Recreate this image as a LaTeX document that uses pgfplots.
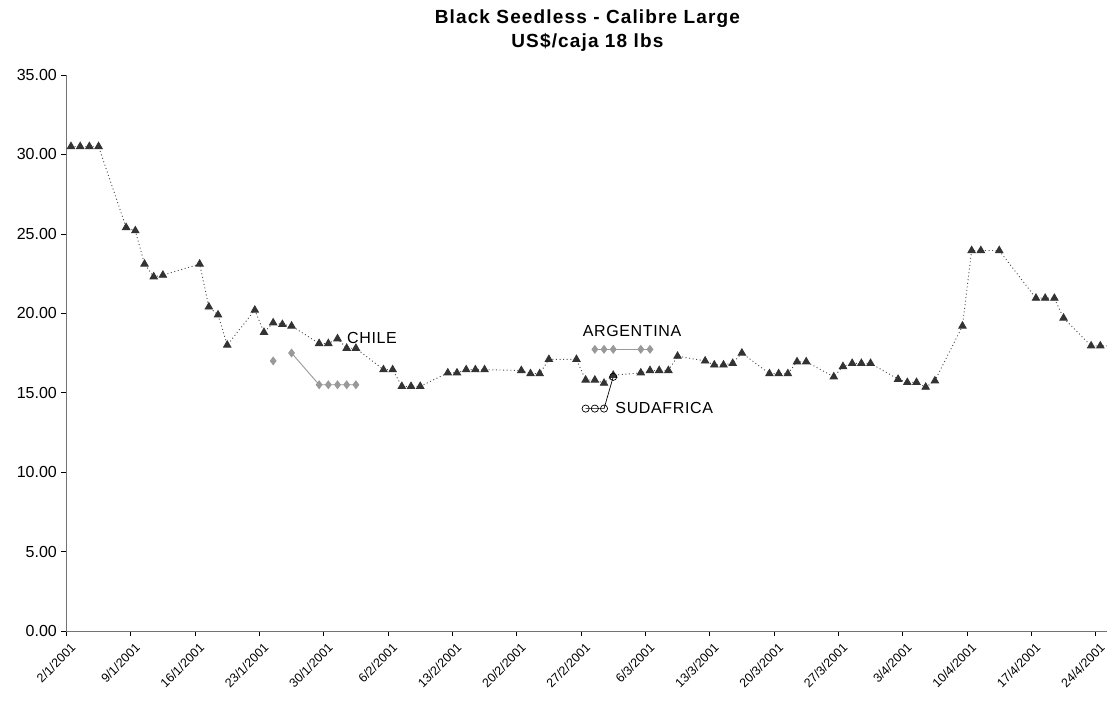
\documentclass[border=0pt]{standalone}
\usepackage{pgfplots}
\pgfplotsset{compat=1.18}
\usepackage{fontspec}
\setmainfont{Liberation Sans}
\definecolor{tri}{HTML}{333333}
\definecolor{dia}{HTML}{999999}
\begin{document}
\begin{tikzpicture}
\useasboundingbox (-66.4pt,-78pt) rectangle (1040.6pt,631pt);
\begin{axis}[
  scale only axis,
  width=1040.6pt, height=556pt,
  xmin=0, xmax=113.23, ymin=0, ymax=35,
  axis lines*=left,
  axis line style={draw=gray!90!black, line width=0.8pt},
  xtick={0,7,...,112},
  xticklabels={2/1/2001,9/1/2001,16/1/2001,23/1/2001,30/1/2001,6/2/2001,13/2/2001,20/2/2001,27/2/2001,6/3/2001,13/3/2001,20/3/2001,27/3/2001,3/4/2001,10/4/2001,17/4/2001,24/4/2001},
  xticklabel style={rotate=45, anchor=north east, font=\fontsize{12.5pt}{14pt}\selectfont, inner sep=1pt, xshift=-1pt, yshift=-6pt},
  ytick={0,5,...,35},
  yticklabel style={font=\fontsize{16pt}{18pt}\selectfont, xshift=-1pt},
  /pgf/number format/.cd, fixed, fixed zerofill, precision=2, assume math mode=true,
  /pgfplots/.cd,
  tick align=outside,
  major tick length=5pt,
  tick style={black, line width=0.7pt},
  unbounded coords=jump,
  clip=true,
]
% Main series (triangles)
\addplot[draw=black!70, line width=0.9pt, dash pattern=on 1pt off 2.6pt,
  mark=triangle*, mark size=4.2pt, mark options={solid, fill=tri, draw=tri}]
coordinates {
(0.5,30.5)(1.5,30.5)(2.5,30.5)(3.5,30.5)
(6.5,25.4)(7.5,25.2)(8.5,23.1)(9.5,22.3)(10.5,22.4)
(14.5,23.1)(15.5,20.4)(16.5,19.9)(17.5,18.0)
(20.5,20.2)(21.5,18.8)(22.5,19.4)(23.5,19.3)(24.5,19.2)
(27.5,18.1)(28.5,18.1)(29.5,18.4)(30.5,17.8)(31.5,17.8)
(34.5,16.45)(35.5,16.45)(36.5,15.4)(37.5,15.4)(38.5,15.4)
(41.5,16.25)(42.5,16.25)(43.5,16.45)(44.5,16.45)(45.5,16.45)
(49.5,16.4)(50.5,16.2)(51.5,16.2)(52.5,17.1)
(55.5,17.1)(56.5,15.8)(57.5,15.8)(58.5,15.6)(59.5,16.1)
(62.5,16.25)(63.5,16.4)(64.5,16.4)(65.5,16.4)(66.5,17.3)
(69.5,17.0)(70.5,16.75)(71.5,16.75)(72.5,16.85)(73.5,17.5)
(76.5,16.2)(77.5,16.2)(78.5,16.2)(79.5,16.95)(80.5,16.95)
(83.5,16.0)(84.5,16.65)(85.5,16.85)(86.5,16.85)(87.5,16.85)
(90.5,15.85)(91.5,15.65)(92.5,15.65)(93.5,15.35)(94.5,15.75)
(97.5,19.2)(98.5,23.95)(99.5,23.95)(101.5,23.95)
(105.5,20.95)(106.5,20.95)(107.5,20.95)(108.5,19.7)
(111.5,17.95)(112.5,17.95)(113.5,17.95)
};
% Chile
\addplot[draw=dia, line width=0.9pt, mark=diamond*, mark size=3.8pt,
  mark options={fill=dia, draw=dia}]
coordinates {
(22.5,17.0)(23.5,nan)(24.5,17.5)(27.5,15.5)(28.5,15.5)(29.5,15.5)(30.5,15.5)(31.5,15.5)
};
% Argentina
\addplot[draw=dia, line width=0.9pt, mark=diamond*, mark size=3.8pt,
  mark options={fill=dia, draw=dia}]
coordinates {
(57.5,17.73)(58.5,17.73)(59.5,17.73)(62.5,17.73)(63.5,17.73)
};
% Sudafrica
\addplot[draw=black, line width=0.7pt, mark=o, mark size=3.6pt,
  mark options={fill=white, draw=black, line width=0.7pt}]
coordinates {
(56.5,14.0)(57.5,14.0)(58.5,14.0)(59.5,16.0)
};
\node[font=\fontsize{16pt}{18pt}\selectfont\addfontfeature{LetterSpace=4}] at (axis cs:33.25,18.45) {CHILE};
\node[font=\fontsize{16pt}{18pt}\selectfont\addfontfeature{LetterSpace=4}] at (axis cs:61.55,18.9) {ARGENTINA};
\node[font=\fontsize{16pt}{18pt}\selectfont\addfontfeature{LetterSpace=4}] at (axis cs:65.05,14.05) {SUDAFRICA};
\end{axis}
\node[font=\bfseries\fontsize{19pt}{24pt}\selectfont\addfontfeature{LetterSpace=6}, align=center] at (521pt,600pt) {Black Seedless - Calibre Large\\US\$/caja 18 lbs};
\end{tikzpicture}
\end{document}
